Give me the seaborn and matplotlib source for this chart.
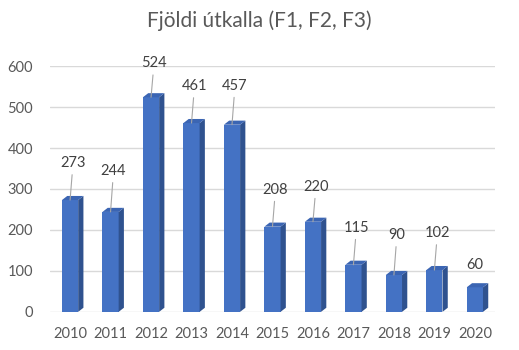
import matplotlib
matplotlib.use("Agg")
import matplotlib.pyplot as plt
import seaborn as sns
import pandas as pd
from matplotlib.patches import Polygon

years = ["2010", "2011", "2012", "2013", "2014", "2015", "2016", "2017", "2018", "2019", "2020"]
counts = [273, 244, 524, 461, 457, 208, 220, 115, 90, 102, 60]
yticks = [0, 100, 200, 300, 400, 500, 600]
title = "Fjöldi útkalla (F1, F2, F3)"

df = pd.DataFrame({"year": years, "count": counts})

sns.set_theme(style="white")
plt.rcParams["font.family"] = ["Lato", "DejaVu Sans"]

fig = plt.figure(figsize=(5.19, 3.5), dpi=100)
ax = fig.add_axes([0.096, 0.109, 0.858, 0.702])

front = "#4472C4"
side = "#2F528F"
top = "#3B65B3"

sns.barplot(data=df, x="year", y="count", color=front, width=0.4, ax=ax,
            saturation=1, zorder=3, linewidth=0, edgecolor="none")

ax.set_ylim(0, 600)
ax.set_xlim(-0.5, len(years) - 0.5)
ax.set_yticks(yticks)
ax.set_yticklabels([str(t) for t in yticks])
ax.yaxis.grid(True, color="#D9D9D9", linewidth=1)
ax.set_axisbelow(True)
for s in ax.spines.values():
    s.set_visible(False)
ax.set_xlabel("")
ax.set_ylabel("")
ax.tick_params(axis="both", colors="#595959", labelsize=10.5, length=0)
ax.tick_params(axis="x", pad=11)
ax.tick_params(axis="y", pad=12)

# pseudo 3D faces
dx = 0.13
dy = 10
for p in ax.patches:
    x0 = p.get_x()
    w = p.get_width()
    h = p.get_height()
    x1 = x0 + w
    ax.add_patch(Polygon([(x1, 0), (x1 + dx, dy), (x1 + dx, h + dy), (x1, h)],
                         closed=True, facecolor=side, edgecolor="none", zorder=3))
    ax.add_patch(Polygon([(x0, h), (x0 + dx, h + dy), (x1 + dx, h + dy), (x1, h)],
                         closed=True, facecolor=top, edgecolor="none", zorder=3))

label_offsets = [30, 34, 27, 30, 32, 30, 28, 30, 33, 30, 15]
for i, (p, v) in enumerate(zip(ax.patches[:len(counts)], counts)):
    cx = p.get_x() + p.get_width() / 2
    off = label_offsets[i]
    if off > 20:
        ax.annotate(str(v), xy=(cx, v), xytext=(3, off), textcoords="offset pixels",
                    ha="center", va="bottom", fontsize=10.5, color="#404040",
                    arrowprops=dict(arrowstyle="-", color="#A6A6A6", lw=0.8,
                                    shrinkA=1, shrinkB=0), zorder=5)
    else:
        ax.annotate(str(v), xy=(cx, v), xytext=(0, off), textcoords="offset pixels",
                    ha="center", va="bottom", fontsize=10.5, color="#404040", zorder=5)

fig.text(0.5, 0.94, title, ha="center", va="center", fontsize=15, color="#595959")

fig.savefig("out.png", dpi=100, facecolor="white")
